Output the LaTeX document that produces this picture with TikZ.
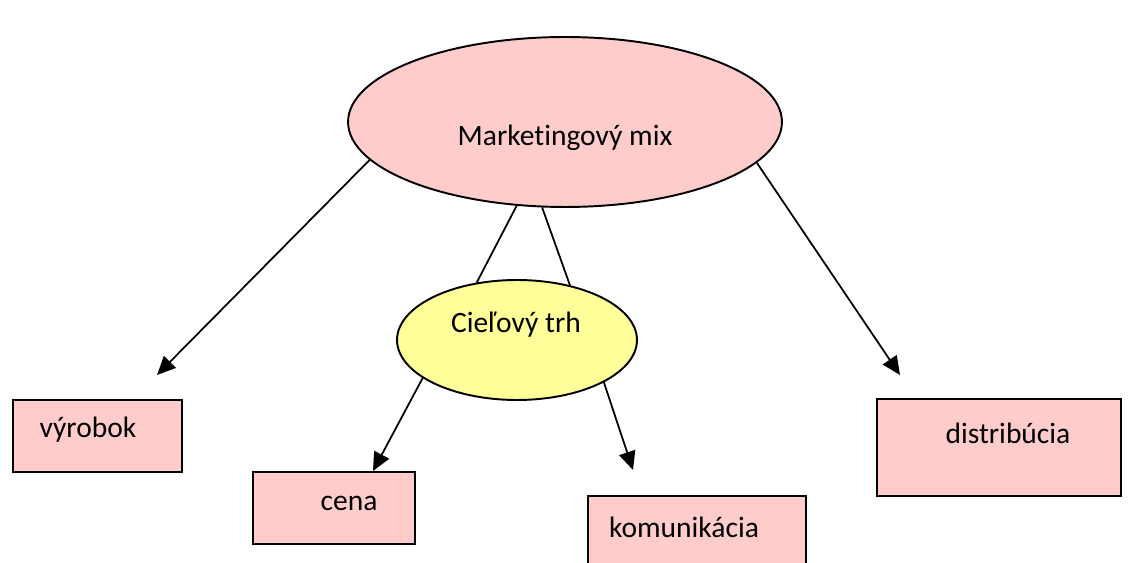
\documentclass[tikz,border=0pt]{standalone}
\usepackage{fontspec}
\setmainfont{Carlito}[Ligatures=NoCommon]
\usetikzlibrary{shapes.geometric,arrows.meta}
\definecolor{mixpink}{HTML}{FFCCCC}
\definecolor{trhyellow}{HTML}{FFFF99}
\tikzset{
  box/.style={draw, fill=mixpink, line width=1.1pt, inner sep=0pt},
  oval/.style={ellipse, draw, line width=1.1pt, inner sep=0pt},
  txt/.style={font=\fontsize{16.8}{20}\selectfont, inner sep=0pt},
  arr/.style={-{Triangle[length=10.5pt,width=9.5pt]}, line width=1pt},
}
\begin{document}
\begin{tikzpicture}[x=0.02cm,y=-0.02cm]
        \useasboundingbox (0,0) rectangle (1130,563);

        % ovals
        \node[oval, fill=mixpink, minimum width=8.68cm, minimum height=3.4cm] (mix) at (565,122) {};
        \node[txt] (mix-t) at (565,138) {Marketingový mix};
        \node[oval, fill=trhyellow, minimum width=4.8cm, minimum height=2.4cm] (trh) at (517,340) {};
        \node[txt] (trh-t) at (516,325) {Cieľový trh};

        % boxes
        \node[box, minimum width=3.38cm, minimum height=1.44cm] (vyrobok) at (97.5,436) {};
        \node[txt] (vyrobok-t) at (88,430) {výrobok};
        \node[box, minimum width=3.24cm, minimum height=1.44cm] (cena) at (334,508) {};
        \node[txt] (cena-t) at (349,503) {cena};
        \node[box, minimum width=4.36cm, minimum height=1.48cm] (komunikacia) at (697,533) {};
        \node[txt] (komunikacia-t) at (684,527) {komunikácia};
        \node[box, minimum width=4.88cm, minimum height=1.94cm] (distribucia) at (999,447.5) {};
        \node[txt] (distribucia-t) at (1008,433) {distribúcia};

        % arrow ends
        \coordinate (vyrobok-in) at (157,375);
        \coordinate (cena-in) at (373,471);
        \coordinate (komunikacia-in) at (633,470);
        \coordinate (distribucia-in) at (900,375);

        \draw[arr] (mix.191.8) -- (vyrobok-in);
        \draw[arr] (mix.348.3) -- (distribucia-in);
        \draw[line width=1pt] (mix.240.8) -- (trh.125.1);
        \draw[line width=1pt] (mix.255) -- (trh.46.6);
        \draw[arr] (trh.202.5) -- (cena-in);
        \draw[arr] (trh.334.5) -- (komunikacia-in);
      \end{tikzpicture}
\end{document}
